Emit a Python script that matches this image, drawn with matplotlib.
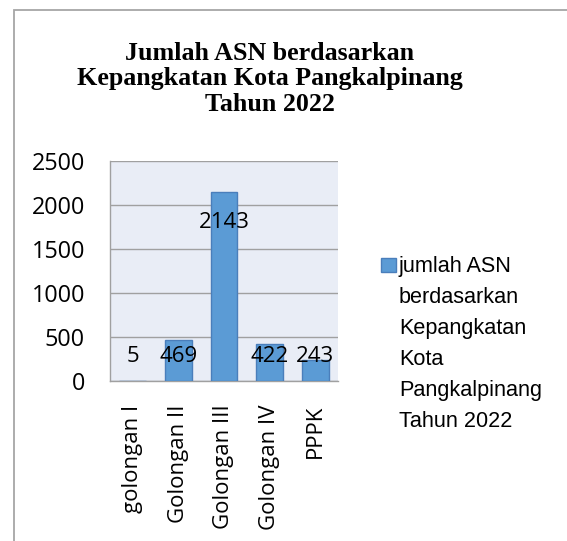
import matplotlib
matplotlib.use("Agg")
import matplotlib.pyplot as plt
from matplotlib.patches import Rectangle

categories = ["golongan I", "Golongan II", "Golongan III", "Golongan IV", "PPPK"]
values = [5, 469, 2143, 422, 243]
yticks = [0, 500, 1000, 1500, 2000, 2500]
title = "Jumlah ASN berdasarkan\nKepangkatan Kota Pangkalpinang\nTahun 2022"
legend_label = "jumlah ASN\nberdasarkan\nKepangkatan\nKota\nPangkalpinang\nTahun 2022"

W, H = 567, 541
fig = plt.figure(figsize=(W / 100, H / 100), dpi=100)

# outer frame (left and top edges visible)
fig.patches.append(Rectangle((14 / W, -0.1), 1.2, 1 - 10 / H + 0.1, transform=fig.transFigure,
                             fill=False, edgecolor="#A6A6A6", linewidth=1.3))

ax = fig.add_axes([110 / W, 1 - 381 / H, 228 / W, 220 / H])
ax.set_facecolor("#E9EDF6")
bars = ax.bar(range(len(values)), values, width=0.59, color="#5B9BD5",
              edgecolor="#4A7EBB", linewidth=1.0, zorder=3)
ax.set_xlim(-0.5, len(values) - 0.5)
ax.set_ylim(0, 2500)
ax.set_yticks(yticks)
ax.yaxis.grid(True, color="#A0A0A0", linewidth=1.0, zorder=0)
ax.set_axisbelow(True)
for s in ["top", "right"]:
    ax.spines[s].set_visible(False)
for s in ["left", "bottom"]:
    ax.spines[s].set_color("#A0A0A0")
    ax.spines[s].set_linewidth(1.0)
ax.tick_params(length=0, labelsize=16)
ax.tick_params(axis="y", pad=18, labelsize=16.8)
ax.set_xticks(range(len(values)))
ax.set_xticklabels(categories, rotation=90, va="top", ha="center")
for lbl in ax.get_xticklabels() + ax.get_yticklabels():
    lbl.set_fontfamily("Open Sans")
ax.tick_params(axis="x", pad=17)

for i, v in enumerate(values):
    ax.text(i, max(v - 337, 284), str(v), ha="center", va="center",
            fontsize=16, family="Open Sans", zorder=4)

fig.text(270 / W, 1 - 79 / H, title, ha="center", va="center", fontsize=18.7,
         fontweight="bold", family="Liberation Serif", linespacing=1.12)

# legend
fig.patches.append(Rectangle((381 / W, 1 - 272 / H), 15 / W, 14 / H, transform=fig.transFigure,
                             facecolor="#5B9BD5", edgecolor="#4A7EBB", linewidth=1.0))
fig.text(399 / W, 1 - 256 / H, legend_label, ha="left", va="top", fontsize=15.6,
         family="Liberation Sans", linespacing=1.62)

fig.savefig("out.png", dpi=100)
